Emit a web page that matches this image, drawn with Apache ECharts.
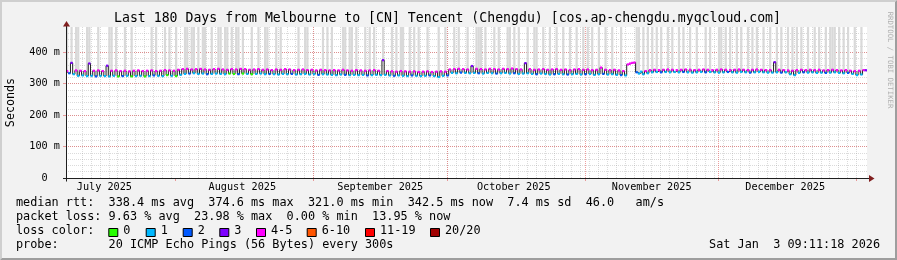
<!DOCTYPE html>
<html><head><meta charset="utf-8">
<script src="https://cdn.jsdelivr.net/npm/echarts@6/dist/echarts.min.js"></script>
<style>html,body{margin:0;padding:0;background:#f2f2f2}#c{width:897px;height:260px}</style>
</head><body><div id="c"></div>
<script>
// ---- time range (RRD graph window) ----
const START = Date.UTC(2025, 6, 7, 9, 11, 18);
const END = Date.UTC(2026, 0, 3, 9, 11, 18);
const STEP = 12 * 3600 * 1000; // two consolidated samples per day

// ---- median RTT (ms), two samples per day, 180 days ----
const median = [
340,333, 366,330, 342,325, 341,326, 340,324, 364,325, 341,323, 342,325, 340,324, 357,323,
341,325, 342,323, 340,324, 341,325, 339,323, 341,324, 342,325, 340,323, 341,324, 342,326,
340,325, 341,324, 343,327, 342,325, 341,324, 344,328, 346,331, 347,332, 345,333, 346,331,
347,332, 345,330, 344,331, 346,332, 347,331, 345,330, 344,332, 346,331, 345,330, 347,332,
346,331, 344,330, 345,331, 346,332, 344,330, 345,331, 343,330, 345,329, 344,331, 346,330,
345,331, 343,329, 344,330, 345,331, 343,329, 344,330, 342,328, 344,330, 343,329, 342,328,
343,327, 342,329, 344,328, 342,327, 341,328, 343,327, 342,328, 341,326, 342,327, 343,328,
341,327, 374.6,328, 340,326, 339,325, 338,326, 340,325, 339,324, 338,326, 339,325, 337,324,
338,325, 339,326, 337,324, 338,321, 339,325, 338,326, 345,334, 346,333, 347,335, 346,334,
345,333, 356,334, 347,333, 346,332, 345,334, 347,333, 346,332, 345,333, 347,334, 346,332,
348,333, 346,331, 345,332, 365,333, 346,331, 344,330, 345,332, 346,331, 344,329, 345,330,
346,331, 344,330, 345,329, 343,330, 345,331, 346,329, 344,330, 345,331, 343,328, 344,330,
351,331, 344,329, 343,330, 344,328, 342,327, 340,326, 361,364, 366,367, 336,332, 338,330,
340,333, 343,336, 344,337, 343,336, 344,337, 345,336, 344,337, 343,336, 344,337, 345,336,
344,335, 343,336, 344,337, 345,336, 344,337, 343,336, 344,335, 345,336, 344,337, 343,336,
344,335, 345,337, 344,336, 343,335, 344,336, 345,337, 344,336, 343,335, 343,335, 368,336,
344,335, 343,336, 342,330, 341,327, 343,334, 344,336, 343,335, 344,336, 343,334, 344,335,
342,334, 343,335, 344,336, 343,334, 342,333, 343,334, 341,331, 340,327, 341,329, 343,342.5
];

// ---- lost pings (of 20) per sample ----
const loss = [
4,2, 3,1, 5,1, 4,1, 5,1, 3,1, 4,2, 5,1, 4,1, 3,1,
5,1, 4,0, 5,2, 4,1, 5,0, 4,1, 5,1, 4,0, 5,1, 4,2,
5,1, 4,1, 5,0, 4,1, 5,0, 4,1, 5,1, 4,2, 5,1, 5,1,
4,1, 5,2, 4,1, 5,1, 4,1, 5,1, 4,0, 5,0, 4,2, 5,0,
4,1, 5,0, 4,1, 5,1, 4,1, 5,2, 4,1, 5,1, 4,1, 5,1,
4,2, 5,1, 4,1, 5,1, 4,1, 5,1, 4,2, 5,1, 4,1, 5,1,
4,1, 5,1, 4,2, 5,1, 4,1, 5,1, 4,1, 5,2, 4,1, 5,1,
4,1, 3,1, 5,1, 4,2, 5,1, 4,1, 5,1, 4,2, 5,1, 4,1,
5,1, 4,2, 5,1, 4,1, 5,1, 4,2, 5,1, 4,1, 5,2, 4,1,
5,1, 3,1, 4,2, 5,1, 4,1, 5,1, 4,2, 5,1, 4,1, 5,1,
4,2, 5,1, 4,1, 3,1, 5,1, 4,2, 5,1, 4,1, 5,1, 4,2,
5,1, 4,1, 5,2, 4,1, 5,1, 4,1, 5,2, 4,1, 5,1, 4,1,
5,2, 4,1, 5,1, 4,1, 5,2, 4,1, 5,5, 5,4, 2,1, 1,1,
4,1, 5,1, 4,1, 5,2, 4,1, 5,1, 4,1, 5,1, 4,2, 5,1,
4,1, 5,1, 4,1, 5,2, 4,1, 5,1, 4,1, 5,1, 4,2, 5,1,
4,1, 5,1, 4,1, 5,2, 4,1, 5,1, 4,1, 5,1, 4,1, 3,1,
4,2, 5,1, 4,1, 5,1, 4,1, 5,2, 4,1, 5,1, 4,1, 5,1,
4,2, 5,1, 4,1, 5,1, 4,1, 5,2, 4,1, 5,1, 4,1, 5,3
];

// ---- samples whose smoke reaches beyond the top of the graph ----
const smokeIdx = [0,2,4,5,9,10,14,19,20,22,26,29,38,40,44,46,49,53,54,56,57,59,61,62,65,68,69,71,72,74,76,77,79,83,86,89,90,94,96,104,107,108,115,117,119,124,125,127,128,130,134,136,138,142,146,148,150,151,154,156,158,162,167,170,174,176,180,184,185,186,188,192,194,198,199,201,203,207,210,211,214,217,220,223,226,229,232,234,236,239,242,245,249,256,257,259,261,263,265,267,270,272,275,277,280,283,287,289,293,294,296,298,301,303,306,308,310,313,316,319,321,324,326,328,330,333,336,338,341,343,344,345,347,349,351,354,357];

// ---- axes ----
const monthStarts = ['2025-08-01','2025-09-01','2025-10-01','2025-11-01','2025-12-01','2026-01-01'];
const monthLabelAt = ['2025-07-16','2025-08-16','2025-09-16','2025-10-16','2025-11-16','2025-12-16'];
const monthLabels = ['July 2025','August 2025','September 2025','October 2025','November 2025','December 2025'];
const yTicks = [0, 100, 200, 300, 400];
const yTickLabels = ['0  ', '100 m', '200 m', '300 m', '400 m'];
const Y_MAX = 480;

// ---- loss colour legend ----
const lossNames = ['0','1','2','3','4-5','6-10','11-19','20/20'];
const lossUpper = [0, 1, 2, 3, 5, 10, 19, 20];
const lossColors = ['#26ff00','#00b8ff','#0059ff','#7e00ff','#ff00ff','#ff5500','#ff0000','#a00000'];

// ---- legend text ----
const legendLines = [
  'median rtt:  338.4 ms avg  374.6 ms max  321.0 ms min  342.5 ms now  7.4 ms sd  46.0   am/s',
  'packet loss: 9.63 % avg  23.98 % max  0.00 % min  13.95 % now',
  'loss color:',
  'probe:       20 ICMP Echo Pings (56 Bytes) every 300s'
];
const stampText = 'Sat Jan  3 09:11:18 2026';
const titleText = 'Last 180 Days from Melbourne to [CN] Tencent (Chengdu) [cos.ap-chengdu.myqcloud.com]';

const FONT = '"DejaVu Sans Mono", "Liberation Mono", monospace';
const LEG = 11.83;
const GRID = 'rgba(143,143,143,0.32)';
const MGRID = 'rgba(222,79,79,0.55)';
const AXIS = '#1f1f1f';
const ARROW = '#801f1f';

const ms = s => Date.parse(s + 'T00:00:00Z');
const monthStartMs = monthStarts.map(ms);
const monthLabelMs = monthLabelAt.map(ms);
const minorX = [];
for (let t = ms('2025-07-09'); t <= END; t += 2 * 86400000) minorX.push(t);

function lossColor(n) {
  for (let k = 0; k < lossUpper.length; k++) if (n <= lossUpper[k]) return lossColors[k];
  return lossColors[lossColors.length - 1];
}

const lineData = median.map((v, i) => [START + (i + 0.5) * STEP, v]);
const bandData = median.map((v, i) => [START + i * STEP, START + (i + 1) * STEP, v, loss[i]]);
const smokeData = smokeIdx.map(i => [START + i * STEP, START + (i + 1) * STEP, median[i]]);

const chart = echarts.init(document.getElementById('c'), null, {renderer: 'canvas', width: 897, height: 260});

// legend graphics
const lineY = [203.2, 217.2, 231.2, 245.2];
const boxX = [108.3, 145.7, 182.7, 219.3, 256, 306.7, 365, 430];
const graphics = [];
function txt(x, y, s, size, align) {
  graphics.push({type: 'text', x: x, y: y, z: 50, silent: true,
    style: {text: s, fontFamily: FONT, fontSize: size, fill: '#000', align: align || 'left', verticalAlign: 'middle'}});
}
legendLines.forEach((s, k) => txt(16, lineY[k], s, LEG));
lossNames.forEach((s, k) => {
  graphics.push({type: 'rect', z: 50, silent: true, shape: {x: boxX[k] + 0.5, y: 228.5, width: 9, height: 8},
    style: {fill: lossColors[k], stroke: '#000', lineWidth: 1}});
  txt(boxX[k] + 15, lineY[2], s, LEG);
});
txt(880, lineY[3], stampText, LEG, 'right');
// title
txt(447.5, 19, titleText, 13.2, 'center');
// unit label
graphics.push({type: 'text', x: 10.5, y: 102.5, rotation: Math.PI / 2, z: 50, silent: true,
  style: {text: 'Seconds', fontFamily: FONT, fontSize: 11.7, fill: '#000', align: 'center', verticalAlign: 'middle'}});
// watermark
graphics.push({type: 'text', x: 889.5, y: 60, rotation: -Math.PI / 2, z: 50, silent: true,
  style: {text: 'RRDTOOL / TOBI OETIKER', fontFamily: FONT, fontSize: 7.3, fill: '#b0b0b0', align: 'center', verticalAlign: 'middle'}});
// frame shading
graphics.push({type: 'polygon', z: 40, silent: true, shape: {points: [[0,0],[897,0],[895,2],[2,2],[2,258],[0,260]]}, style: {fill: '#cfcfcf'}});
graphics.push({type: 'polygon', z: 40, silent: true, shape: {points: [[897,0],[897,260],[0,260],[2,258],[895,258],[895,2]]}, style: {fill: '#9e9e9e'}});
// axis lines and arrows
graphics.push({type: 'line', z: 60, silent: true, shape: {x1: 66.5, y1: 24, x2: 66.5, y2: 181.5}, style: {stroke: AXIS, lineWidth: 1}});
graphics.push({type: 'line', z: 60, silent: true, shape: {x1: 63, y1: 178.5, x2: 870, y2: 178.5}, style: {stroke: AXIS, lineWidth: 1}});
graphics.push({type: 'polygon', z: 61, silent: true, shape: {points: [[66.5, 21], [63, 26.5], [70, 26.5]]}, style: {fill: ARROW}});
graphics.push({type: 'polygon', z: 61, silent: true, shape: {points: [[874.5, 178.5], [869, 175], [869, 182]]}, style: {fill: ARROW}});

const option = {
  animation: false,
  backgroundColor: '#f2f2f2',
  grid: {left: 66, top: 27, width: 801, height: 151, show: true, backgroundColor: '#ffffff', borderWidth: 0, containLabel: false, outerBoundsMode: 'none'},
  xAxis: [
    {type: 'value', min: START, max: END, position: 'bottom',
     axisLine: {show: false}, axisTick: {show: false, customValues: minorX}, axisLabel: {show: false},
     splitLine: {show: true, showMinLine: false, showMaxLine: false, lineStyle: {color: GRID, width: 1, type: [1, 1]}}},
    {type: 'value', min: START, max: END, position: 'bottom',
     axisLine: {show: false},
     axisTick: {show: true, customValues: monthStartMs, length: 3, lineStyle: {color: MGRID, width: 1}},
     axisLabel: {show: true, customValues: monthLabelMs, margin: 4, fontFamily: FONT, fontSize: 10.2, color: '#000',
       formatter: v => { const k = monthLabelMs.indexOf(v); return k >= 0 ? monthLabels[k] : ''; }},
     splitLine: {show: true, showMinLine: false, showMaxLine: false, lineStyle: {color: MGRID, width: 1, type: [1, 1]}}}
  ],
  yAxis: [
    {type: 'value', min: 0, max: Y_MAX, interval: 20, position: 'left',
     axisLine: {show: false}, axisTick: {show: false}, axisLabel: {show: false},
     splitLine: {show: true, showMinLine: false, showMaxLine: false, lineStyle: {color: GRID, width: 1, type: [1, 1]}}},
    {type: 'value', min: 0, max: Y_MAX, interval: 100, position: 'left', offset: 0,
     axisLine: {show: false},
     axisTick: {show: true, length: 3, lineStyle: {color: MGRID}},
     axisLabel: {show: true, showMaxLabel: false, margin: 6, fontFamily: FONT, fontSize: 10.2, color: '#000',
       formatter: v => { const k = yTicks.indexOf(v); return k >= 0 ? yTickLabels[k] : ''; }},
     splitLine: {show: true, showMinLine: false, showMaxLine: false, lineStyle: {color: MGRID, width: 1, type: [1, 1]}}}
  ],
  series: [
    {type: 'custom', name: 'smoke', xAxisIndex: 1, yAxisIndex: 1, clip: true, z: 2, silent: true,
     encode: {x: [0, 1], y: 2},
     renderItem: (params, api) => {
       const a = api.coord([api.value(0), Y_MAX]);
       const b = api.coord([api.value(1), api.value(2)]);
       return {type: 'rect', shape: {x: a[0], y: a[1], width: Math.max(1, b[0] - a[0]), height: b[1] - a[1]},
               style: {fill: '#d9d9d9'}};
     },
     data: smokeData},
    {type: 'line', name: 'median', xAxisIndex: 1, yAxisIndex: 1, step: 'middle', showSymbol: false, symbol: 'none',
     z: 3, silent: true, lineStyle: {color: '#202020', width: 1}, data: lineData},
    {type: 'custom', name: 'loss', xAxisIndex: 1, yAxisIndex: 1, clip: true, z: 4, silent: true,
     encode: {x: [0, 1], y: 2},
     renderItem: (params, api) => {
       const a = api.coord([api.value(0), api.value(2)]);
       const b = api.coord([api.value(1), api.value(2)]);
       return {type: 'rect', shape: {x: a[0], y: a[1] - 1.1, width: b[0] - a[0], height: 2.2},
               style: {fill: lossColor(api.value(3))}};
     },
     data: bandData}
  ],
  graphic: graphics
};
chart.setOption(option);
</script>
</body></html>
